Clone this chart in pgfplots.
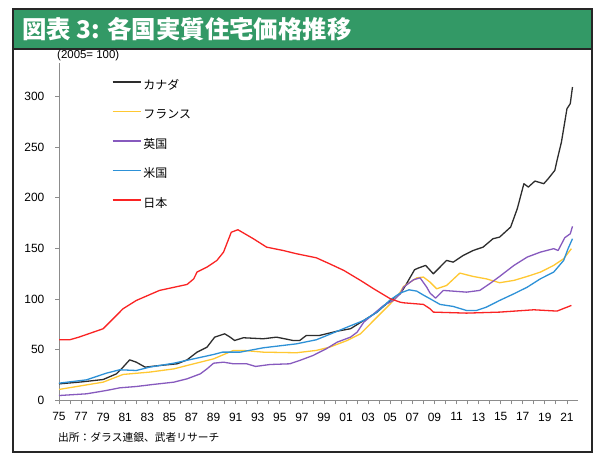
\documentclass[border=0pt]{standalone}
\usepackage{pgfplots}
\pgfplotsset{compat=1.18}
\usepackage{fontspec}
\setmainfont{Liberation Sans}
\newfontfamily\cjk{Noto Sans CJK JP}

\definecolor{titlegreen}{RGB}{51,153,102}
\definecolor{cacol}{RGB}{45,45,45}
\definecolor{frcol}{RGB}{255,200,50}
\definecolor{ukcol}{RGB}{135,90,190}
\definecolor{uscol}{RGB}{45,145,215}
\definecolor{jpcol}{RGB}{250,35,35}
\definecolor{axgray}{RGB}{140,140,140}

\begin{document}
\begin{tikzpicture}[x=1bp,y=1bp]
\fill[white] (0,0) rectangle (600,458);
\fill[titlegreen] (13,409) rectangle (592,449);
\draw[line width=1.2bp, black!85] (13,6) rectangle (592,449);
\draw[line width=1.2bp, black!85] (13,409) -- (592,409);
\node[anchor=west, text=white, inner sep=0pt] at (22,429)
  {\cjk\bfseries\fontsize{24.5}{27}\selectfont 図表 3: 各国実質住宅価格推移};
\node[anchor=west, inner sep=0pt] at (57,402.5) {\fontsize{11.5}{13}\selectfont (2005= 100)};
\node[anchor=west, inner sep=0pt] at (58,21)
  {\cjk\fontsize{10.8}{13}\selectfont 出所：ダラス連銀、武者リサーチ};

\begin{axis}[
  at={(59bp,57.5bp)}, anchor=south west,
  scale only axis, width=519bp, height=337.5bp,
  xmin=1975, xmax=2022, ymin=0, ymax=333,
  axis lines*=left,
  axis line style={axgray, line width=0.9bp},
  tick style={axgray, line width=0.8bp},
  tick align=outside, major tick length=4bp,
  xtick={1975,...,2021},
  xticklabels={75,,77,,79,,81,,83,,85,,87,,89,,91,,93,,95,,97,,99,,01,,03,,05,,07,,09,,11,,13,,15,,17,,19,,21},
  ytick={0,50,...,300},
  /pgf/number format/assume math mode=true,
  ticklabel style={font=\fontsize{12}{14}\selectfont, inner sep=0pt},
  yticklabel style={xshift=-10.5bp},
  xticklabel style={yshift=-8bp},
  legend style={at={(axis cs:1979.77,316.3)}, anchor=north west, draw=none, fill=none,
    inner sep=0pt, row sep=17.5bp, column sep=2bp,
    font=\cjk\fontsize{12}{14}\selectfont,
    nodes={inner sep=0pt, text height=9bp, text depth=3bp}, cells={anchor=west}},
  legend image code/.code={\draw[#1] (0bp,4bp) -- (28bp,4bp);},
  every axis plot/.append style={line width=1.3bp, line join=round, mark=none},
  clip=false,
]
\addlegendimage{color=cacol, line width=1.6bp}
\addlegendentry{カナダ}
\addlegendimage{color=frcol, line width=1.6bp}
\addlegendentry{フランス}
\addlegendimage{color=ukcol, line width=1.6bp}
\addlegendentry{英国}
\addlegendimage{color=uscol, line width=1.6bp}
\addlegendentry{米国}
\addlegendimage{color=jpcol, line width=1.6bp}
\addlegendentry{日本}
% カナダ
\addplot[color=cacol, forget plot] coordinates {
(1975.0,16.4) (1977.0,18.3) (1979.0,20.7) (1980.2,26.3) (1980.8,32.9) (1981.4,40.1)
(1982.0,37.8) (1982.8,32.9) (1984.1,34.5) (1985.7,36.2) (1986.6,40.1) (1987.5,47.7)
(1988.4,52.6) (1989.1,62.5) (1990.0,65.8) (1990.5,62.5) (1990.9,59.2) (1991.4,60.9)
(1991.7,61.9) (1993.5,60.9) (1994.7,62.5) (1996.2,59.2) (1996.8,59.2) (1997.4,64.2)
(1998.6,64.2) (2000.2,68.4) (2001.4,70.8) (2002.6,79.0) (2003.8,87.2) (2005.0,98.7)
(2005.9,105.3) (2006.3,112.0) (2007.2,129.0) (2007.5,130.5) (2008.2,133.3) (2008.9,125.0)
(2010.1,138.2) (2010.7,136.5) (2011.6,143.1) (2012.5,148.0) (2013.4,151.3) (2014.3,159.6)
(2014.9,161.2) (2015.9,171.1) (2016.5,189.2) (2017.1,213.9) (2017.5,210.6) (2018.1,216.5)
(2018.9,213.9) (2019.3,218.8) (2019.9,227.0) (2020.1,236.9) (2020.5,255.0) (2021.0,287.9)
(2021.3,292.9) (2021.5,309.3)
};
% フランス
\addplot[color=frcol, forget plot] coordinates {
(1975.0,10.9) (1979.0,18.1) (1980.8,25.7) (1983.2,28.0) (1985.4,31.2) (1987.2,36.2)
(1989.0,41.1) (1990.8,49.4) (1991.7,49.4) (1993.5,47.7) (1996.5,47.1) (1998.3,49.4)
(1999.5,52.6) (2001.1,59.2) (2002.3,65.8) (2003.5,79.0) (2004.4,88.8) (2005.3,98.7)
(2005.9,106.9) (2006.2,112.5) (2007.4,121.0) (2008.0,121.8) (2008.6,116.8) (2009.2,110.2)
(2010.1,113.5) (2011.3,125.7) (2012.5,122.4) (2013.7,120.0) (2014.9,116.2) (2016.2,118.5)
(2017.4,122.4) (2018.6,126.7) (2019.8,133.3) (2020.7,139.9) (2021.4,149.8)
};
% 英国
\addplot[color=ukcol, forget plot] coordinates {
(1975.0,4.9) (1977.5,6.6) (1979.3,9.9) (1980.5,12.5) (1982.0,13.8) (1983.5,15.8)
(1985.4,18.1) (1986.6,21.4) (1987.8,26.3) (1988.4,31.2) (1989.0,36.8) (1989.9,37.8)
(1990.8,36.2) (1992.0,36.2) (1992.8,33.6) (1994.1,35.5) (1995.9,36.2) (1996.8,39.5)
(1998.0,44.4) (1999.2,51.0) (2000.2,57.6) (2001.4,62.5) (2002.0,67.4) (2002.6,77.3)
(2003.5,85.5) (2004.4,93.8) (2005.3,98.7) (2005.9,105.3) (2006.2,111.8) (2007.1,119.1)
(2007.7,121.0) (2008.3,111.8) (2008.6,106.0) (2009.1,101.0) (2009.8,108.6) (2010.7,107.9)
(2011.9,106.9) (2013.1,108.6) (2014.0,115.2) (2014.9,122.4) (2016.2,133.3) (2017.4,141.5)
(2018.6,146.4) (2019.8,149.8) (2020.2,148.0) (2020.8,160.6) (2021.3,164.5) (2021.5,171.8)
};
% 米国
\addplot[color=uscol, forget plot] coordinates {
(1975.0,17.1) (1977.5,20.4) (1979.3,27.0) (1980.5,30.3) (1982.0,29.6) (1983.2,32.9)
(1985.4,36.8) (1987.2,41.1) (1989.0,45.4) (1989.8,47.7) (1991.4,47.7) (1993.5,52.0)
(1996.5,55.9) (1998.3,59.9) (1999.5,65.2) (2001.1,72.4) (2002.6,79.0) (2003.8,87.2)
(2005.0,99.3) (2005.9,106.0) (2006.7,109.2) (2007.4,107.9) (2008.0,104.0) (2008.6,100.4)
(2009.5,94.8) (2010.7,92.8) (2011.9,88.8) (2012.8,88.8) (2013.7,92.1) (2014.9,98.7)
(2016.2,105.3) (2017.4,111.8) (2018.6,120.1) (2019.8,126.7) (2020.7,138.2) (2021.1,149.8)
(2021.5,159.6)
};
% 日本
\addplot[color=jpcol, forget plot] coordinates {
(1975.0,60.0) (1976.0,60.0) (1976.8,62.5) (1979.0,70.8) (1980.8,90.5) (1982.0,98.7)
(1984.1,108.6) (1986.6,114.5) (1987.2,120.0) (1987.5,126.7) (1988.4,131.6) (1989.3,138.2)
(1989.9,146.4) (1990.6,166.0) (1991.2,168.5) (1992.6,159.6) (1993.8,151.3) (1995.3,148.0)
(1996.5,144.8) (1998.3,140.8) (1999.5,134.9) (2000.8,128.3) (2002.3,118.5) (2003.5,110.2)
(2005.0,100.4) (2005.9,97.0) (2006.2,96.4) (2008.0,94.8) (2008.6,90.5) (2008.9,87.2)
(2011.9,86.2) (2014.9,87.2) (2018.0,89.5) (2020.1,88.2) (2021.4,93.8)
};
\end{axis}
\pgfresetboundingbox
\path[use as bounding box] (0,0) rectangle (600,458);
\end{tikzpicture}
\end{document}
